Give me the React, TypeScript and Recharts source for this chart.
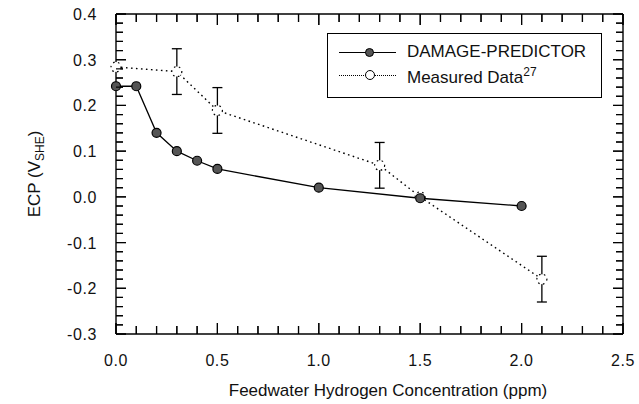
import { LineChart, Line, XAxis, YAxis, ErrorBar, ReferenceLine } from 'recharts';

// DAMAGE-PREDICTOR curve
const predX = [0, 0.1, 0.2, 0.3, 0.4, 0.5, 1.0, 1.5, 2.0];
const predY = [0.242, 0.242, 0.14, 0.1, 0.079, 0.061, 0.02, -0.003, -0.02];

// Measured data (ref 27) with error bars
const measX = [0, 0.3, 0.5, 1.3, 1.5, 2.1];
const measY = [0.284, 0.274, 0.189, 0.069, 0.0, -0.18];
const measErr = [null, 0.05, 0.05, 0.05, null, 0.05];

const xTicks = [0, 0.1, 0.2, 0.3, 0.4, 0.5, 0.6, 0.7, 0.8, 0.9, 1.0, 1.1, 1.2, 1.3, 1.4, 1.5, 1.6, 1.7, 1.8, 1.9, 2.0, 2.1, 2.2, 2.3, 2.4, 2.5];
const yTicks = [
  -0.3, -0.28, -0.26, -0.24, -0.22, -0.2, -0.18, -0.16, -0.14, -0.12, -0.1, -0.08, -0.06, -0.04, -0.02,
  0, 0.02, 0.04, 0.06, 0.08, 0.1, 0.12, 0.14, 0.16, 0.18, 0.2, 0.22, 0.24, 0.26, 0.28, 0.3, 0.32, 0.34, 0.36, 0.38, 0.4,
];

const predData = predX.map((x, i) => ({ x, y: predY[i] }));
const measData = measX.map((x, i) => ({ x, y: measY[i], err: measErr[i] }));

const FONT = '"Liberation Sans", Arial, sans-serif';
const INK = '#000';

const X_MIN = 0, X_MAX = 2.5, Y_MIN = -0.3, Y_MAX = 0.4;
// data units per pixel of the 507 x 320 plot area, used for tick mark lengths
const X_PER_PX = (X_MAX - X_MIN) / 507;
const Y_PER_PX = (Y_MAX - Y_MIN) / 320;

const isMajor = (v: number, step: number) => Math.abs(v / step - Math.round(v / step)) < 1e-6;

const BottomTick = ({ x, y, payload }: any) => {
  const major = isMajor(payload.value, 0.5);
  return (
    <g>
      <line x1={x} y1={y} x2={x} y2={y - (major ? 11 : 8)} stroke={INK} strokeWidth={1.2} />
      {major && (
        <text x={x} y={y + 32} textAnchor="middle" fontFamily={FONT} fontSize={16} letterSpacing={0.6} fill="#111">
          {payload.value.toFixed(1)}
        </text>
      )}
    </g>
  );
};

const TopTick = ({ x, y, payload }: any) => (
  <g>
    <line x1={x} y1={y} x2={x} y2={y + (isMajor(payload.value, 0.5) ? 11 : 8)} stroke={INK} strokeWidth={1.2} />
  </g>
);

const LeftTick = ({ x, y, payload }: any) => {
  const major = isMajor(payload.value, 0.1);
  return (
    <g>
      <line x1={x} y1={y} x2={x + (major ? 10 : 7)} y2={y} stroke={INK} strokeWidth={1.2} />
      {major && (
        <text x={x - 19} y={y + 6} textAnchor="end" fontFamily={FONT} fontSize={16} letterSpacing={0.6} fill="#111">
          {payload.value.toFixed(1)}
        </text>
      )}
    </g>
  );
};

const RightTick = ({ x, y, payload }: any) => (
  <g>
    <line x1={x} y1={y} x2={x - (isMajor(payload.value, 0.1) ? 10 : 7)} y2={y} stroke={INK} strokeWidth={1.2} />
  </g>
);

// inward tick marks on all four sides, also drawn through the axis scales
const tickMarks = [
  ...xTicks.flatMap((v) => {
    const len = (isMajor(v, 0.5) ? 11 : 8) * Y_PER_PX;
    return [
      <ReferenceLine key={`xb${v}`} xAxisId="bottom" yAxisId="left" ifOverflow="visible" stroke={INK} strokeWidth={1.2}
        segment={[{ x: v, y: Y_MIN }, { x: v, y: Y_MIN + len }]} />,
      <ReferenceLine key={`xt${v}`} xAxisId="bottom" yAxisId="left" ifOverflow="visible" stroke={INK} strokeWidth={1.2}
        segment={[{ x: v, y: Y_MAX }, { x: v, y: Y_MAX - len }]} />,
    ];
  }),
  ...yTicks.flatMap((v) => {
    const len = (isMajor(v, 0.1) ? 10 : 7) * X_PER_PX;
    return [
      <ReferenceLine key={`yl${v}`} xAxisId="bottom" yAxisId="left" ifOverflow="visible" stroke={INK} strokeWidth={1.2}
        segment={[{ x: X_MIN, y: v }, { x: X_MIN + len, y: v }]} />,
      <ReferenceLine key={`yr${v}`} xAxisId="bottom" yAxisId="left" ifOverflow="visible" stroke={INK} strokeWidth={1.2}
        segment={[{ x: X_MAX, y: v }, { x: X_MAX - len, y: v }]} />,
    ];
  }),
];

const text17 = { fontFamily: FONT, fontSize: 17, color: '#111', whiteSpace: 'nowrap' as const };

export default function App() {
  return (
    <div style={{ position: 'relative', width: 639, height: 404, background: '#fff' }}>
      <style>{'body{margin:0}'}</style>
      <LineChart width={639} height={404} margin={{ top: 0, right: 0, bottom: 0, left: 0 }}>
        <XAxis
          xAxisId="bottom"
          dataKey="x"
          type="number"
          domain={[X_MIN, X_MAX]}
          ticks={xTicks}
          interval={0}
          height={70}
          tickSize={0}
          tickMargin={0}
          tickLine={false}
          axisLine={{ stroke: INK, strokeWidth: 1.4 }}
          tick={<BottomTick />}
        />
        <XAxis
          xAxisId="top"
          orientation="top"
          dataKey="x"
          type="number"
          domain={[X_MIN, X_MAX]}
          ticks={xTicks}
          interval={0}
          height={14}
          tickSize={0}
          tickMargin={0}
          tickLine={false}
          axisLine={{ stroke: INK, strokeWidth: 1.4 }}
          tick={<TopTick />}
        />
        <YAxis
          yAxisId="left"
          type="number"
          domain={[Y_MIN, Y_MAX]}
          ticks={yTicks}
          interval={0}
          width={116}
          tickSize={0}
          tickMargin={0}
          tickLine={false}
          axisLine={{ stroke: INK, strokeWidth: 1.4 }}
          tick={<LeftTick />}
        />
        <YAxis
          yAxisId="right"
          orientation="right"
          type="number"
          domain={[Y_MIN, Y_MAX]}
          ticks={yTicks}
          interval={0}
          width={16}
          tickSize={0}
          tickMargin={0}
          tickLine={false}
          axisLine={{ stroke: INK, strokeWidth: 1.4 }}
          tick={<RightTick />}
        />
        {tickMarks}
        {/* both axis pairs share the same domain, so each series can use a different pair */}
        <Line
          data={measData}
          xAxisId="bottom"
          yAxisId="right"
          dataKey="y"
          stroke={INK}
          strokeWidth={1.4}
          strokeDasharray="1.6 3.4"
          dot={{ r: 5, fill: '#fff', stroke: INK, strokeWidth: 1.2 }}
          isAnimationActive={false}
        >
          <ErrorBar dataKey="err" direction="y" width={5} stroke={INK} strokeWidth={1.3} />
        </Line>
        <Line
          data={predData}
          xAxisId="top"
          yAxisId="left"
          dataKey="y"
          stroke={INK}
          strokeWidth={1.3}
          dot={{ r: 4.5, fill: '#555', stroke: INK, strokeWidth: 1.2 }}
          isAnimationActive={false}
        />
      </LineChart>

      {/* Legend (plain HTML, no extra svg) */}
      <div
        style={{
          position: 'absolute',
          left: 327,
          top: 33,
          width: 275,
          height: 65,
          border: `1.4px solid ${INK}`,
          background: '#fff',
          boxSizing: 'border-box',
        }}
      >
        <div style={{ position: 'absolute', left: 11, top: 18, width: 57, borderTop: `1.3px solid ${INK}` }} />
        <div style={{ position: 'absolute', left: 37, top: 14, width: 9, height: 9, borderRadius: '50%', background: '#555', border: `1.2px solid ${INK}`, boxSizing: 'border-box' }} />
        <div style={{ position: 'absolute', left: 11, top: 41, width: 57, borderTop: `1.5px dotted ${INK}` }} />
        <div style={{ position: 'absolute', left: 37, top: 36, width: 10, height: 10, borderRadius: '50%', background: '#fff', border: `1.2px solid ${INK}`, boxSizing: 'border-box' }} />
        <div style={{ ...text17, position: 'absolute', left: 79, top: 8 }}>DAMAGE-PREDICTOR</div>
        <div style={{ ...text17, position: 'absolute', left: 79, top: 31 }}>
          Measured Data<sup style={{ fontSize: 12 }}>27</sup>
        </div>
      </div>

      {/* Axis titles */}
      <div style={{ ...text17, position: 'absolute', left: 388, top: 381, transform: 'translateX(-50%)' }}>
        Feedwater Hydrogen Concentration (ppm)
      </div>
      <div style={{ ...text17, position: 'absolute', left: 36, top: 174, transform: 'translate(-50%, -50%) rotate(-90deg)' }}>
        ECP (V<sub style={{ fontSize: 12 }}>SHE</sub>)
      </div>
    </div>
  );
}
